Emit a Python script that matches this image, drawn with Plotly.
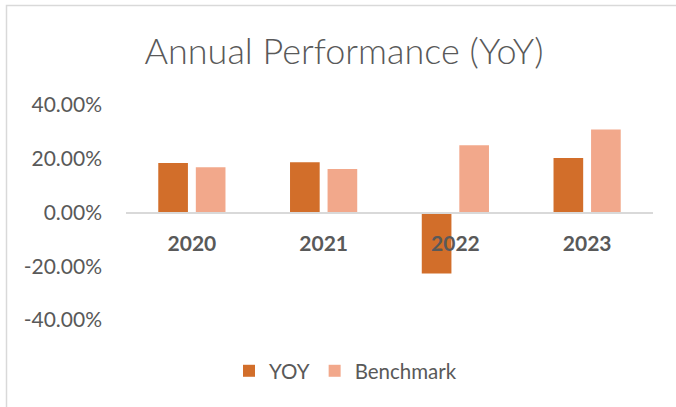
import plotly.graph_objects as go

categories = ["2020", "2021", "2022", "2023"]
yoy = [0.184, 0.187, -0.227, 0.203]
benchmark = [0.168, 0.162, 0.250, 0.309]
y_ticks = [-0.4, -0.2, 0.0, 0.2, 0.4]
y_tick_labels = ["-40.00%", "-20.00%", "0.00%", "20.00%", "40.00%"]

FONT = "Lato"
GRAY = "#595959"

fig = go.Figure()
fig.add_trace(go.Bar(name="YOY", x=categories, y=yoy, marker=dict(color="#D26E2A", line=dict(width=0))))
fig.add_trace(go.Bar(name="Benchmark", x=categories, y=benchmark, marker=dict(color="#F2A88B", line=dict(width=0))))

fig.update_layout(
    width=676, height=407,
    margin=dict(l=126, r=23, t=105, b=87),
    paper_bgcolor="white", plot_bgcolor="white",
    barmode="group", bargap=0.43, bargroupgap=0.21,
    title=dict(text="Annual Performance (YoY)", x=0.509, xanchor="center", xref="container",
               y=1 - 51 / 407, yanchor="middle", yref="container",
               font=dict(family=FONT, size=36, color=GRAY, weight=300)),
    showlegend=True,
    legend=dict(orientation="h", x=0.4165, xanchor="center", xref="paper", y=-0.237, yanchor="middle",
                font=dict(family=FONT, size=20.5, color=GRAY), itemwidth=30, traceorder="normal"),
    font=dict(family=FONT, color=GRAY),
)
fig.update_yaxes(range=[-0.4, 0.4], tickvals=y_ticks, ticktext=y_tick_labels, showgrid=False,
                 zeroline=False, showline=False, ticks="", ticklabelstandoff=23,
                 tickfont=dict(family=FONT, size=21, color=GRAY))
fig.update_xaxes(anchor="free", position=0.5, showline=True, linecolor="#D9D9D9", linewidth=2,
                 ticks="", showgrid=False, ticklabelstandoff=12,
                 tickfont=dict(family=FONT, size=21, color=GRAY, weight="bold"))

# light chart-area border (top and left edges visible in the reference)
px_x = lambda p: (p - 126) / 527
px_y = lambda p: (320 - p) / 215
fig.add_shape(type="path", xref="paper", yref="paper",
              path=f"M {px_x(6.5)} {px_y(430)} L {px_x(6.5)} {px_y(5.5)} L {px_x(700)} {px_y(5.5)}",
              line=dict(color="#D9D9D9", width=1.5))
fig.write_html("out.html", config={"displayModeBar": False},
               post_script="document.body.style.margin='0';")
